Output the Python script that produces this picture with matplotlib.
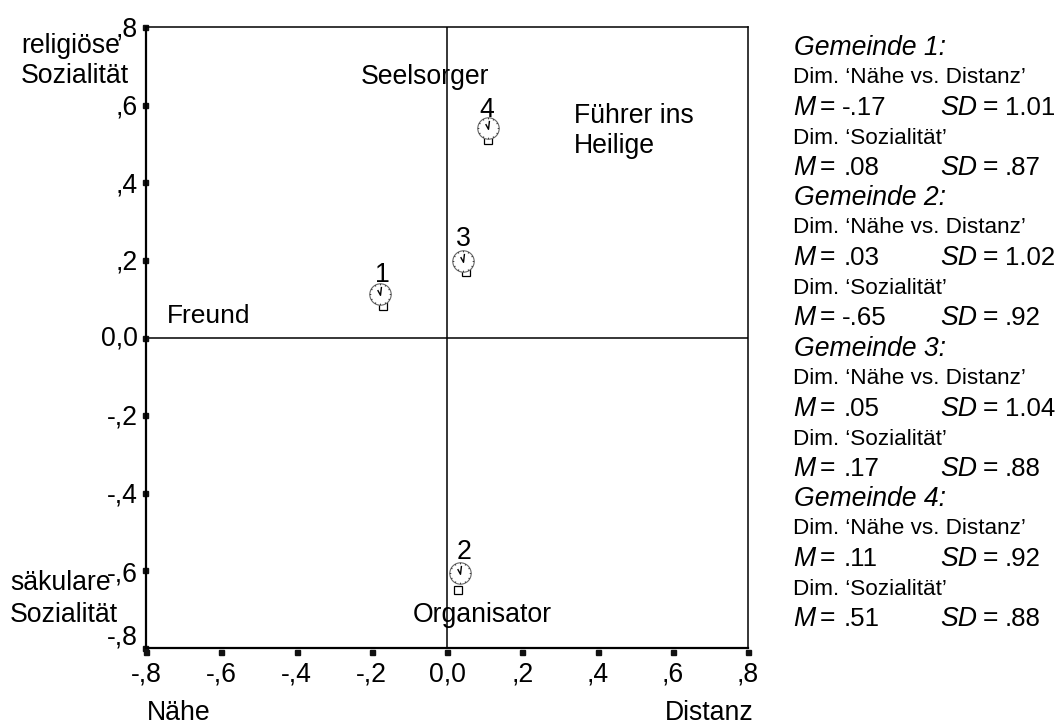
import numpy as np
import matplotlib
matplotlib.use("Agg")
import matplotlib.pyplot as plt
from matplotlib.path import Path
from matplotlib.transforms import ScaledTranslation

plt.rcParams['font.family'] = ['Liberation Sans', 'DejaVu Sans']

W, H = 1058, 725
# Data
gemeinden = ['1', '2', '3', '4']
mean_x = [-0.17, 0.03, 0.05, 0.11]
mean_y = [0.08, -0.65, 0.17, 0.51]
clock_x = [-0.177, 0.035, 0.043, 0.109]
clock_y = [0.113, -0.608, 0.197, 0.54]
tick_values = [-0.8, -0.6, -0.4, -0.2, 0.0, 0.2, 0.4, 0.6, 0.8]
tick_labels = ['-,8', '-,6', '-,4', '-,2', '0,0', ',2', ',4', ',6', ',8']
stats_m_x = ['-.17', '.03', '.05', '.11']
stats_sd_x = ['1.01', '1.02', '1.04', '.92']
stats_m_y = ['.08', '-.65', '.17', '.51']
stats_sd_y = ['.87', '.92', '.88', '.88']

FS = 19.2
fig = plt.figure(figsize=(W / 100, H / 100), dpi=100)
L, R, T, B = 146, 748, 27, 648
ax = fig.add_axes([L / W, 1 - B / H, (R - L) / W, (B - T) / H])
ax.set_xlim(-0.8, 0.8)
ax.set_ylim(-0.8, 0.8)
for name, s in ax.spines.items():
    s.set_linewidth(1.6 if name in ('left', 'bottom') else 1.1)
    s.set_color('black')
ax.axhline(0, color='black', lw=1.1, zorder=1)
ax.axvline(0, color='black', lw=1.1, zorder=1)
ax.set_xticks(tick_values, tick_labels)
ax.set_yticks(tick_values, tick_labels)
ax.tick_params(length=0, labelsize=FS)
ax.tick_params(axis='x', pad=9.5)
ax.tick_params(axis='y', pad=6)

# Square tick marks standing just outside the frame
blend_x = ax.get_xaxis_transform()
blend_y = ax.get_yaxis_transform()
px = 72 / 100
ax.plot(tick_values, [0] * len(tick_values), ls='none', marker='s', ms=3.6, color='#111111',
        transform=blend_x + ScaledTranslation(0, -4 * px / 72, fig.dpi_scale_trans), clip_on=False)
ax.plot([0] * len(tick_values), tick_values, ls='none', marker='s', ms=3.6, color='#111111',
        transform=blend_y + ScaledTranslation(-1.5 * px / 72, 0, fig.dpi_scale_trans), clip_on=False)

# Individual vertical nudges of the y tick labels, in pixels (up is positive)
y_nudge = [13, -1, 0, 1, 2, 0, 0, 0, 1]
for lab, d in zip(ax.get_yticklabels(), y_nudge):
    lab.set_transform(lab.get_transform() + ScaledTranslation(0, d * px / 72, fig.dpi_scale_trans))

# Means: small square below a clock symbol
ax.plot(mean_x, mean_y, ls='none', marker='s', ms=5.4, mfc='white', mec='black', mew=0.9, zorder=3)
ax.plot(clock_x, clock_y, ls='none', marker='o', ms=15.4, mfc='white', mec='#666666', mew=0.8, zorder=4)
ang = np.arange(12) * np.pi / 6
verts, codes = [], []
for a in ang:
    verts += [(0.86 * np.sin(a), 0.86 * np.cos(a)), (np.sin(a), np.cos(a))]
    codes += [Path.MOVETO, Path.LINETO]
clock_ticks = Path(verts, codes)
hands = Path([(-0.35, 0.55), (0.0, -0.1), (0.12, 0.95)], [Path.MOVETO, Path.LINETO, Path.LINETO])
ax.plot(clock_x, clock_y, ls='none', marker=clock_ticks, ms=15.4, mfc='none', mec='#222222', mew=0.6, zorder=5)
ax.plot(clock_x, clock_y, ls='none', marker=hands, ms=11, mfc='none', mec='black', mew=1.0, zorder=5)
label_offsets_px = [(2, 11.3), (3.7, 14), (0, 14.7), (-1, 11.3)]
for g, cx, cy, (dx, dy) in zip(gemeinden, clock_x, clock_y, label_offsets_px):
    ax.annotate(g, (cx, cy), xytext=(dx * px, dy * px), textcoords='offset points', ha='center',
                va='baseline', fontsize=FS, zorder=6)


def put(x, y, s, size=FS, style='normal', ha='left'):
    """Place text at a pixel position, y being the baseline."""
    return fig.text(x / W, 1 - y / H, s, fontsize=size, style=style, ha=ha, va='baseline')


put(361, 83.5, 'Seelsorger')
put(574, 123, 'Führer ins')
put(574, 153, 'Heilige')
put(167, 323, 'Freund', 19)
put(413, 622, 'Organisator')
put(21, 53, 'religiöse')
put(21, 83, 'Sozialität')
put(10, 590, 'säkulare')
put(10, 622, 'Sozialität')
put(147, 719.5, 'Nähe')
put(665, 719.5, 'Distanz')

# Right-hand statistics block
STEP = 150.3
SMALL = 16.2
VAL = 18.6
for i in range(4):
    y = 55 + i * STEP
    put(794, y, f'Gemeinde {gemeinden[i]}:', FS, 'italic')
    put(793, y + 28, 'Dim. ‘Nähe vs. Distanz’', SMALL)
    for dy, m, sd in ((60, stats_m_x[i], stats_sd_x[i]), (120, stats_m_y[i], stats_sd_y[i])):
        put(793, y + dy, 'M', FS, 'italic')
        put(820, y + dy, '=')
        put(842 if m.startswith('-') else 844, y + dy, m, VAL)
        put(940, y + dy, 'SD', FS, 'italic')
        put(983, y + dy, '=')
        put(1005, y + dy, sd, VAL)
    put(793, y + 89, 'Dim. ‘Sozialität’', SMALL)

fig.savefig('out.png', dpi=100)
